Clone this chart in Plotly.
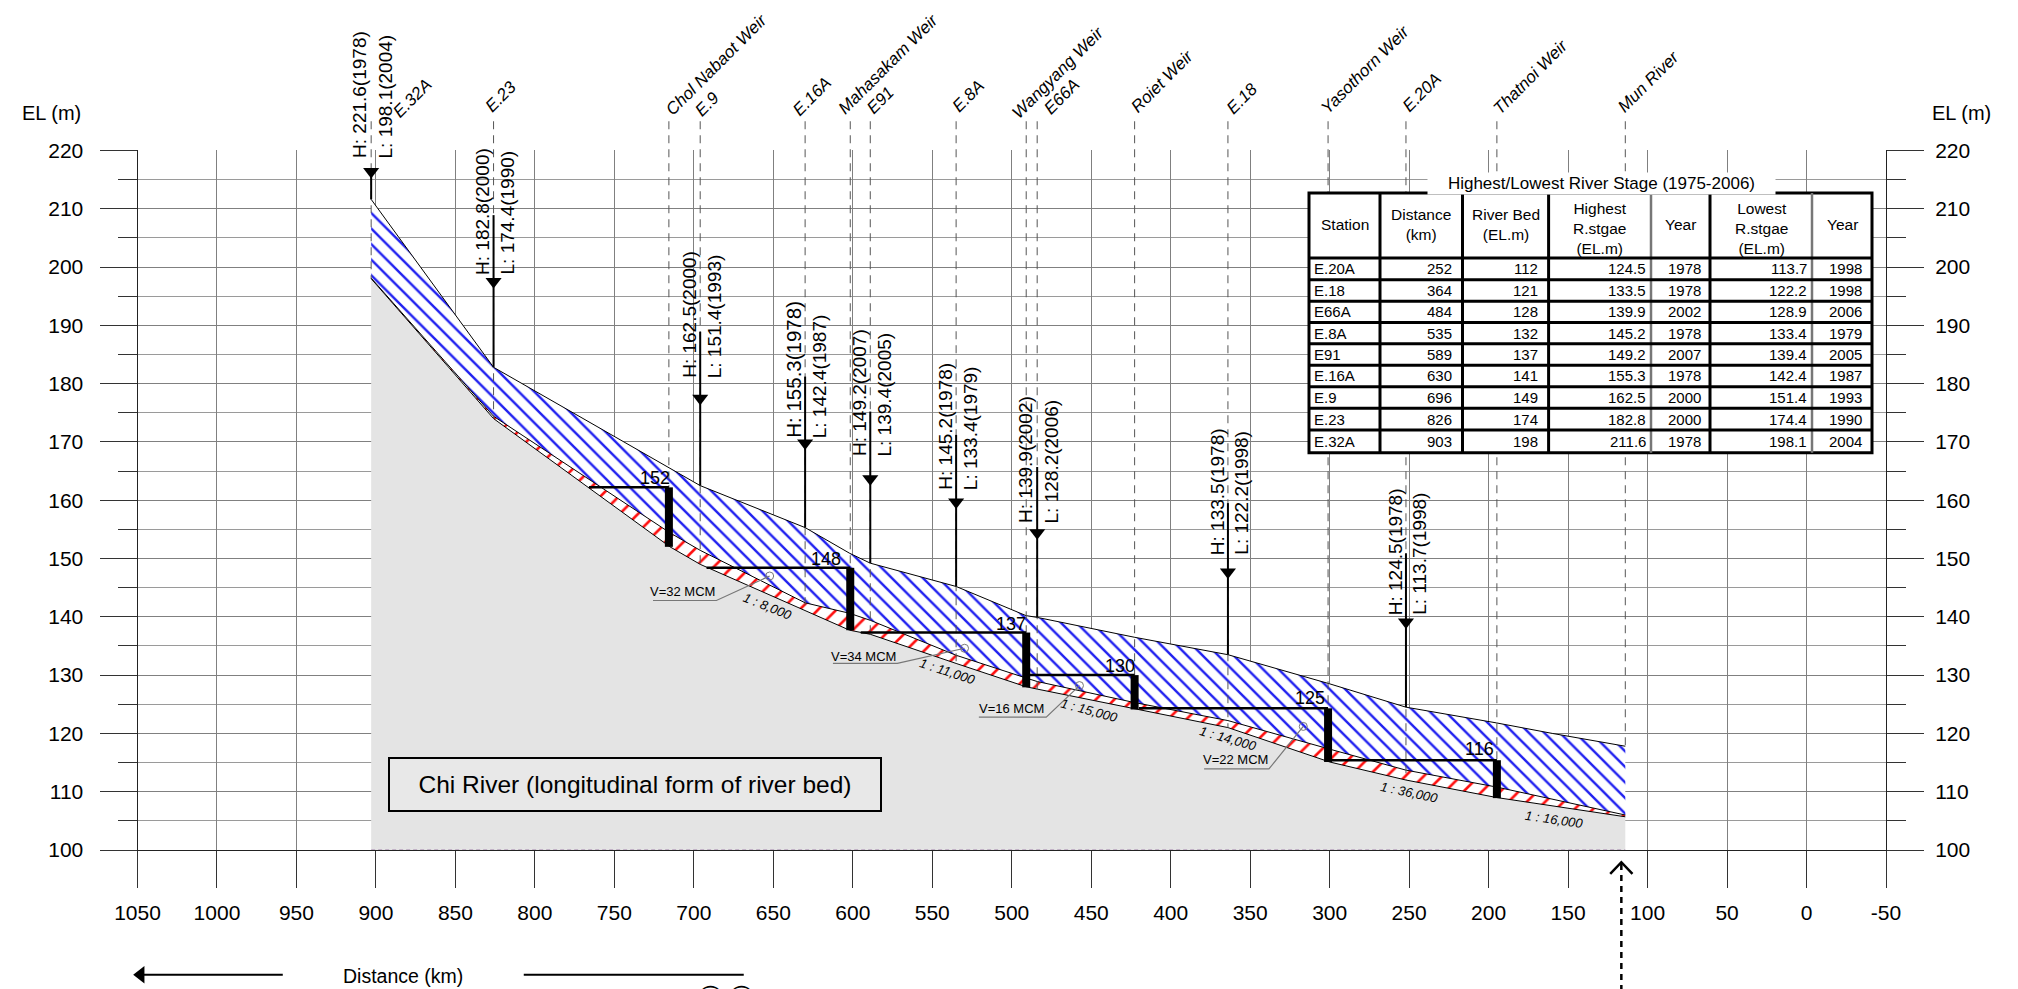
import plotly.graph_objects as go

FONT = "Liberation Sans"

# ---------- axes ----------
x_ticks = [1050, 1000, 950, 900, 850, 800, 750, 700, 650, 600, 550, 500, 450, 400, 350, 300, 250, 200, 150, 100, 50, 0, -50]
x_tick_text = [str(v) for v in x_ticks]
y_major = [100, 110, 120, 130, 140, 150, 160, 170, 180, 190, 200, 210, 220]
y_minor = [105, 115, 125, 135, 145, 155, 165, 175, 185, 195, 205, 215]

# ---------- river profile ----------
high_km = [903, 826, 696, 630, 602, 589, 535, 491, 484, 423, 364, 300, 252, 195, 160, 114]
high_el = [211.6, 182.8, 162.5, 155.3, 150.9, 149.2, 145.2, 140.2, 139.9, 136.5, 133.5, 128.5, 124.5, 121.8, 120, 117.8]
low_km = [903, 826, 715, 696, 630, 602, 589, 535, 491, 484, 423, 364, 300, 252, 195, 114]
low_el = [198.1, 174.4, 154.4, 151.4, 142.4, 140.6, 139.4, 133.4, 129.5, 128.9, 125.3, 122.2, 117.3, 113.7, 110.8, 106]
bed_km = [903, 826, 715, 696, 602, 589, 535, 491, 484, 423, 364, 300, 252, 195, 114]
bed_el = [198, 174, 152, 149, 137.7, 137, 132, 128, 127.6, 124.3, 121, 115.1, 112, 109, 105.7]

# ---------- gauging stations ----------
stn_names = ["E.32A", "E.23", "E.9", "E.16A", "E91", "E.8A", "E66A", "E.18", "E.20A"]
stn_km = [903, 826, 696, 630, 589, 535, 484, 364, 252]
stn_water = [211.6, 182.8, 162.5, 155.3, 149.2, 145.2, 139.9, 133.5, 124.5]
stn_bed = [198, 174, 149, 141, 137, 132, 127.6, 121, 112]
stn_arrow = [216.4, 197.5, 177.5, 169.8, 163.7, 159.7, 154.4, 147.7, 139.1]
stn_top = [216.4, 208.9, 188.9, 181.2, 175.2, 171.2, 165.7, 159.5, 150.9]
stn_text_base = [218.3, 198.3, 180.6, 170.3, 167.2, 161.4, 155.7, 150.3, 140]
stn_high = ["H: 221.6(1978)", "H: 182.8(2000)", "H: 162.5(2000)", "H: 155.3(1978)", "H: 149.2(2007)", "H: 145.2(1978)", "H: 139.9(2002)", "H: 133.5(1978)", "H: 124.5(1978)"]
stn_low = ["L: 198.1(2004)", "L: 174.4(1990)", "L: 151.4(1993)", "L: 142.4(1987)", "L: 139.4(2005)", "L: 133.4(1979)", "L: 128.2(2006)", "L: 122.2(1998)", "L: 113.7(1998)"]
stn_high_size = [19, 19, 19, 20.5, 19, 19, 19, 19, 19]
# centres of the slanted names, in page pixels
stn_name_px = [412, 501, 706.6, 812, 880, 968, 1062, 1242, 1422]
stn_name_py = [98, 96.5, 104, 96.5, 100, 96.5, 96.5, 98, 92.7]

# ---------- weirs ----------
weir_names = ["Chol Nabaot Weir", "Mahasakam Weir", "Wangyang Weir", "Roiet Weir", "Yasothorn Weir", "Thatnoi Weir", "Mun River"]
weir_name_px = [716.8, 888, 1058, 1162, 1365.5, 1530, 1648.6]
weir_name_py = [64.4, 64.4, 72, 81, 69.5, 77, 81]
weir_km = [715.7, 601.6, 490.9, 422.7, 301, 194.8]
weir_crest = [162.2, 148.4, 137.3, 130, 124.3, 115.4]
weir_base = [152, 137.7, 127.9, 124.1, 115.1, 108.9]
pool_end_km = [766, 692, 595, 491, 420, 299.6]
weir_bed_text = ["152", "148", "137", "130", "125", "116"]
weir_text_km = [724.7, 616.7, 500.3, 432.2, 312.5, 205.5]
weir_text_el = [163.8, 150.0, 138.8, 131.5, 126.1, 117.4]

mun_km = 114
mun_arrow_km = 116.5
chevron_km = [123.5, 116.5, 109.5]
chevron_el = [95.9, 97.9, 95.9]

# ---------- slopes and volumes ----------
slope_text = ["1 : 8,000", "1 : 11,000", "1 : 15,000", "1 : 14,000", "1 : 36,000", "1 : 16,000"]
slope_km = [653.4, 540.2, 451, 363.9, 249.6, 158.6]
slope_el = [141.8, 130.7, 123.9, 119.2, 109.9, 105.3]
slope_angle = [22, 18, 15, 16, 12, 8]

vol_text = ["V=32 MCM", "V=34 MCM", "V=16 MCM", "V=22 MCM"]
vol_text_km = [706.9, 593, 500, 359.4]
vol_text_el = [144.3, 133.2, 124.2, 115.5]
vol_km_a = [725.7, 612.5, 520.7, 379]
vol_km_b = [685.8, 572, 478.3, 338.2]
vol_km_c = [652.3, 529.7, 457.4, 316.6]
vol_el_line = [142.8, 132, 122.8, 113.9]
vol_el_c = [147, 134.6, 128.2, 121.2]

# ---------- table ----------
tbl_station = ["E.20A", "E.18", "E66A", "E.8A", "E91", "E.16A", "E.9", "E.23", "E.32A"]
tbl_distance = ["252", "364", "484", "535", "589", "630", "696", "826", "903"]
tbl_bed = ["112", "121", "128", "132", "137", "141", "149", "174", "198"]
tbl_high = ["124.5", "133.5", "139.9", "145.2", "149.2", "155.3", "162.5", "182.8", "211.6"]
tbl_high_year = ["1978", "1978", "2002", "1978", "2007", "1978", "2000", "2000", "1978"]
tbl_low = ["113.7", "122.2", "128.9", "133.4", "139.4", "142.4", "151.4", "174.4", "198.1"]
tbl_low_year = ["1998", "1998", "2006", "1979", "2005", "1987", "1993", "1990", "2004"]
tbl_headers = ["Station", "Distance<br>(km)", "River Bed<br>(EL.m)", "Highest<br>R.stgae<br>(EL.m)", "Year", "Lowest<br>R.stgae<br>(EL.m)", "Year"]

# layout geometry (pixels on the 2018x989 page)
W, H = 2018, 989
PL, PR, PT, PB = 137.5, 1886.0, 150.4, 850.0
col_edges = [1309, 1380, 1462.5, 1548.6, 1651, 1710, 1812, 1872]
row_edges = [193, 258, 279.7, 301.2, 322.5, 343.8, 365.2, 386.7, 408.3, 430, 452.7]
col_text_right = [None, 1454, 1540, 1648, 1703, 1809, 1864]

# the overlay axes span the whole page with the same scale as the main axes
km_per_px = 1100 / (PR - PL)
el_per_px = 120 / (PB - PT)
page_x_range = [1050 + PL * km_per_px, 1050 - (W - PL) * km_per_px]
page_y_range = [100 - (H - PB) * el_per_px, 100 + PB * el_per_px]


def km_at(v):
    return 1050 - (v - PL) * km_per_px


def el_at(v):
    return 100 + (PB - v) * el_per_px


fig = go.Figure()

# bed / grey ground
fig.add_trace(go.Scatter(x=bed_km, y=bed_el, mode="lines", line=dict(color="black", width=1),
                         fill="tozeroy", fillcolor="#e4e4e4", hoverinfo="skip"))
# red sediment band
fig.add_trace(go.Scatter(x=low_km, y=low_el, mode="lines", line=dict(color="black", width=1),
                         fill="tonexty",
                         fillpattern=dict(shape="/", fgcolor="#ff1010", fgopacity=1, bgcolor="white", size=13, solidity=0.2),
                         hoverinfo="skip"))
# blue water band
fig.add_trace(go.Scatter(x=high_km, y=high_el, mode="lines", line=dict(color="black", width=1),
                         fill="tonexty",
                         fillpattern=dict(shape="\\", fgcolor="#2020f0", fgopacity=1, bgcolor="white", size=11, solidity=0.22),
                         hoverinfo="skip"))
# keeps the right-hand axis on the page
fig.add_trace(go.Scatter(x=[mun_km], y=[117.8], mode="lines", yaxis="y2", hoverinfo="skip"))
# faint dashed foot of the ground area
fig.add_trace(go.Scatter(x=[903, 114], y=[100, 100], mode="lines", line=dict(color="#a080a8", width=1, dash="4px,3px"),
                         hoverinfo="skip"))

TOP_EL = 225
DASH = dict(color="#555555", width=1, dash="8px,6px")
OV = dict(xaxis="x3", yaxis="y3", hoverinfo="skip")

# dashed guide lines
for k, b in zip(stn_km, stn_bed):
    fig.add_trace(go.Scatter(x=[k, k], y=[TOP_EL, b], mode="lines", line=DASH, **OV))
for k, c in zip(weir_km, weir_crest):
    fig.add_trace(go.Scatter(x=[k, k], y=[TOP_EL, c], mode="lines", line=DASH, **OV))
fig.add_trace(go.Scatter(x=[mun_km, mun_km], y=[TOP_EL, 117.8], mode="lines", line=DASH, **OV))

# solid station lines with arrowheads
for k, t, w, a in zip(stn_km, stn_top, stn_water, stn_arrow):
    fig.add_trace(go.Scatter(x=[k, k], y=[t, w], mode="lines", line=dict(color="black", width=2), **OV))
    fig.add_trace(go.Scatter(x=[k], y=[a], mode="markers", marker=dict(symbol="triangle-down", size=14, color="black"), **OV))

# weirs
for k, c, b, e in zip(weir_km, weir_crest, weir_base, pool_end_km):
    fig.add_trace(go.Scatter(x=[e, k], y=[c, c], mode="lines", line=dict(color="black", width=2.5), **OV))
    fig.add_trace(go.Scatter(x=[k, k], y=[c, b], mode="lines", line=dict(color="black", width=8), **OV))

# volume leaders
for a, b, c, e, f in zip(vol_km_a, vol_km_b, vol_km_c, vol_el_line, vol_el_c):
    fig.add_trace(go.Scatter(x=[a, b, c], y=[e, e, f], mode="lines", line=dict(color="#777777", width=1.2), **OV))
    fig.add_trace(go.Scatter(x=[c], y=[f], mode="markers",
                             marker=dict(symbol="circle-open", size=8, color="#777777", line=dict(width=1)), **OV))

# distance arrow
fig.add_trace(go.Scatter(x=[958.6, 1048], y=[78.6, 78.6], mode="lines", line=dict(color="black", width=2), **OV))
fig.add_trace(go.Scatter(x=[1048], y=[78.6], mode="markers", marker=dict(symbol="triangle-left", size=15, color="black"), **OV))
fig.add_trace(go.Scatter(x=[807, 668.6], y=[78.6, 78.6], mode="lines", line=dict(color="black", width=2), **OV))

# Mun river outlet arrow
fig.add_trace(go.Scatter(x=[mun_arrow_km, mun_arrow_km], y=[97.6, 76], mode="lines",
                         line=dict(color="black", width=2.5, dash="6px,5px"), **OV))
fig.add_trace(go.Scatter(x=chevron_km, y=chevron_el, mode="lines", line=dict(color="black", width=2.5), **OV))

ann = []


def label(x, y, text, size=16, angle=0, xanchor="center", yanchor="middle", xshift=0, yshift=0, **kw):
    ann.append(dict(xref="x3", yref="y3", x=x, y=y, text=text, showarrow=False, textangle=angle, xanchor=xanchor,
                    yanchor=yanchor, xshift=xshift, yshift=yshift,
                    font=dict(family=FONT, size=size, color="black"), **kw))


def page_text(x, y, text, size=15, xanchor="center", **kw):
    label(km_at(x), el_at(y), text, size=size, xanchor=xanchor, **kw)


# station readings
for k, hi, lo, base, hs in zip(stn_km, stn_high, stn_low, stn_text_base, stn_high_size):
    label(k, base, hi, size=hs, angle=-90, yanchor="bottom", xshift=-11)
    label(k, base, lo, size=19, angle=-90, yanchor="bottom", xshift=14)
for n, a, b in zip(stn_names + weir_names, stn_name_px + weir_name_px, stn_name_py + weir_name_py):
    page_text(a, b, "<i>" + n + "</i>", size=17, angle=-45)

for k, e, t in zip(weir_text_km, weir_text_el, weir_bed_text):
    label(k, e, t, size=18)
for k, e, t, a in zip(slope_km, slope_el, slope_text, slope_angle):
    label(k, e, "<i>" + t + "</i>", size=13, angle=a)
for k, e, t in zip(vol_text_km, vol_text_el, vol_text):
    label(k, e, t, size=13)

# titles
label(736.8, 111.3, "Chi River (longitudinal form of river bed)", size=24.5, bgcolor="#e8e8e8", bordercolor="black",
      borderwidth=2, width=488, height=49)
label(882.7, 78.4, "Distance (km)", size=19.5)
page_text(51.5, 113, "EL (m)", size=20)
page_text(1961, 113, "EL (m)", size=20)
for cx in (708, 739):
    page_text(cx, 988, ")", size=19, angle=-90)

# table drawn as rectangles and text
PAPER = dict(xref="x3", yref="y3", layer="above")
shapes = [dict(type="rect", x0=km_at(col_edges[0]), x1=km_at(col_edges[-1]),
               y0=el_at(row_edges[0]), y1=el_at(row_edges[-1]), fillcolor="white", line=dict(color="black", width=3), **PAPER)]
for i, e in enumerate(col_edges[1:-1]):
    thin = i in (3, 5)
    shapes.append(dict(type="line", x0=km_at(e), x1=km_at(e), y0=el_at(row_edges[0]), y1=el_at(row_edges[-1]),
                       line=dict(color="#777777" if thin else "black", width=2.5 if thin else 3), **PAPER))
for e in row_edges[1:-1]:
    shapes.append(dict(type="line", x0=km_at(col_edges[0]), x1=km_at(col_edges[-1]), y0=el_at(e), y1=el_at(e),
                       line=dict(color="black", width=3), **PAPER))

for j, h in enumerate(tbl_headers):
    page_text((col_edges[j] + col_edges[j + 1]) / 2, (row_edges[0] + row_edges[1]) / 2 + (3 if "R.stgae" in h else -1), h, size=15.5)
columns = [tbl_station, tbl_distance, tbl_bed, tbl_high, tbl_high_year, tbl_low, tbl_low_year]
for j, col in enumerate(columns):
    for i, v in enumerate(col):
        yc = (row_edges[i + 1] + row_edges[i + 2]) / 2
        if j == 0:
            page_text(col_edges[0] + 3, yc, v, size=15, xanchor="left")
        else:
            page_text(col_text_right[j], yc, v, size=15, xanchor="right")
page_text(1601, 183, "\u00a0\u00a0\u00a0\u00a0Highest/Lowest River Stage (1975-2006)\u00a0\u00a0\u00a0\u00a0", size=17, bgcolor="white")

GRID = "#808080"
ydom = [1 - PB / H, 1 - PT / H]
yaxis_common = dict(range=[100, 220], tickmode="array", tickvals=y_major, ticks="outside", ticklen=37, tickwidth=1,
                    tickcolor="#333333", showgrid=True, gridcolor=GRID, gridwidth=1, zeroline=False,
                    tickfont=dict(family=FONT, size=21, color="black"), showline=True, linecolor="#222222", linewidth=1,
                    minor=dict(tickmode="array", tickvals=y_minor, ticks="outside", ticklen=19, tickwidth=1,
                               tickcolor="#333333", showgrid=True, gridcolor="#9a9a9a", gridwidth=1))

fig.update_layout(
    width=W, height=H, autosize=False, showlegend=False, plot_bgcolor="rgba(0,0,0,0)", paper_bgcolor="white",
    margin=dict(l=0, r=0, t=0, b=0, pad=0, autoexpand=False),
    xaxis=dict(domain=[PL / W, PR / W], range=[1050, -50], tickmode="array", tickvals=x_ticks, ticktext=x_tick_text,
               ticks="outside", ticklen=37, tickwidth=1, tickcolor="#333333", showgrid=True, gridcolor=GRID, gridwidth=1,
               zeroline=False, tickfont=dict(family=FONT, size=21, color="black"), ticklabelstandoff=7, showline=True,
               linecolor="#222222", linewidth=1, anchor="y"),
    yaxis=dict(domain=ydom, side="left", ticklabelstandoff=12, anchor="x", **yaxis_common),
    yaxis2=dict(side="right", overlaying="y", anchor="x", ticklabelstandoff=7, **yaxis_common),
    xaxis3=dict(domain=[0, 1], range=page_x_range, visible=False, anchor="y3"),
    yaxis3=dict(domain=[0, 1], range=page_y_range, visible=False, anchor="x3"),
    annotations=ann, shapes=shapes,
)

fig.write_html("out.html", config={"displayModeBar": False},
               post_script="document.body.style.margin='0';document.body.style.overflow='hidden';")
